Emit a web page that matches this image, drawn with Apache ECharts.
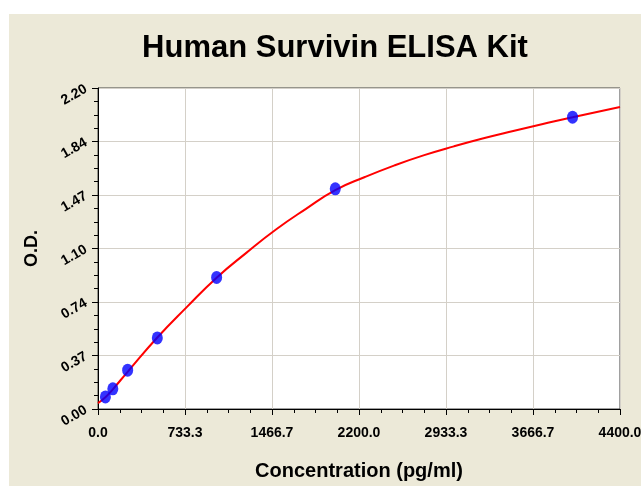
<!DOCTYPE html>
<html>
<head>
<meta charset="utf-8">
<script src="https://cdn.jsdelivr.net/npm/echarts@6/dist/echarts.min.js"></script>
<style>
html,body{margin:0;padding:0;background:#fff;}
#main{width:641px;height:486px;}
</style>
</head>
<body>
<div id="main"></div>
<script>
// Data
const stdConc = [62.5, 125, 250, 500, 1000, 2000, 4000];
const stdOD = [0.083, 0.138, 0.266, 0.487, 0.902, 1.509, 2.000];
const curveConc = [0, 62.5, 125, 250, 500, 750, 1000, 1250, 1500, 1750, 2000, 2250, 2500, 2750, 3000, 3250, 3500, 3750, 4000, 4400];
const curveOD = [0.04, 0.08, 0.135, 0.255, 0.49, 0.70, 0.90, 1.07, 1.23, 1.37, 1.50, 1.59, 1.67, 1.74, 1.80, 1.855, 1.905, 1.953, 2.00, 2.07];
const xTickLabels = ['0.0', '733.3', '1466.7', '2200.0', '2933.3', '3666.7', '4400.0'];
const yTickLabels = ['0.00', '0.37', '0.74', '1.10', '1.47', '1.84', '2.20'];

const chart = echarts.init(document.getElementById('main'), null, {renderer: 'canvas'});
const font = '"Liberation Sans", Arial, sans-serif';
chart.setOption({
  backgroundColor: '#ffffff',
  animation: false,
  graphic: [{
    type: 'rect', z: -100, silent: true,
    shape: {x: 9, y: 14, width: 632, height: 472},
    style: {fill: '#ECE9D8'}
  }],
  title: {
    text: 'Human Survivin ELISA Kit',
    left: 330, textAlign: 'center', top: 28,
    textStyle: {fontFamily: font, fontSize: 31, fontWeight: 'bold', color: '#000'}
  },
  grid: {
    left: 98, top: 88, right: 21, bottom: 77,
    containLabel: false, outerBoundsMode: 'none',
    show: true, backgroundColor: '#ffffff', borderColor: '#404040', borderWidth: 1
  },
  xAxis: {
    type: 'value', min: 0, max: 4400, interval: 4400 / 6,
    name: 'Concentration (pg/ml)', nameLocation: 'middle', nameGap: 52,
    nameTextStyle: {fontFamily: font, fontSize: 20, fontWeight: 'bold', color: '#000'},
    axisLine: {show: true, lineStyle: {color: '#000', width: 1}},
    axisTick: {show: true, length: 6, lineStyle: {color: '#000'}},
    minorTick: {show: true, splitNumber: 4, length: 4, lineStyle: {color: '#000'}},
    splitLine: {show: true, lineStyle: {color: '#D4D0C8', width: 1}},
    axisLabel: {
      fontFamily: font, fontSize: 14, fontWeight: 'bold', color: '#000', margin: 17,
      formatter: (v, i) => xTickLabels[Math.round(v / (4400 / 6))]
    }
  },
  yAxis: {
    type: 'value', min: 0, max: 2.2, interval: 2.2 / 6,
    name: 'O.D.', nameLocation: 'middle', nameGap: 57, nameRotate: 90,
    nameTextStyle: {fontFamily: font, fontSize: 18, fontWeight: 'bold', color: '#000'},
    axisLine: {show: true, lineStyle: {color: '#000', width: 1}},
    axisTick: {show: true, length: 6, lineStyle: {color: '#000'}},
    minorTick: {show: true, splitNumber: 4, length: 4, lineStyle: {color: '#000'}},
    splitLine: {show: true, lineStyle: {color: '#D4D0C8', width: 1}},
    axisLabel: {
      fontFamily: font, fontSize: 14, fontWeight: 'bold', color: '#000', margin: 12, rotate: 30,
      formatter: (v, i) => yTickLabels[Math.round(v / (2.2 / 6))]
    }
  },
  series: [
    {
      type: 'line', smooth: true, symbol: 'none',
      data: curveConc.map((c, i) => [c, curveOD[i]]),
      lineStyle: {color: '#FF0000', width: 2}, z: 2
    },
    {
      type: 'scatter', symbol: 'circle', symbolSize: [11, 13],
      data: stdConc.map((c, i) => [c, stdOD[i]]),
      itemStyle: {color: '#0000FF'}, z: 3
    }
  ]
});
</script>
</body>
</html>
